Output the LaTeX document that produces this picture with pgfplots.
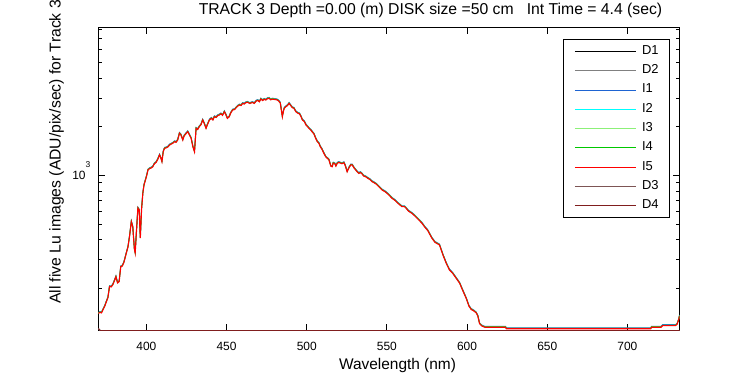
\documentclass[border=0pt]{standalone}
\usepackage{fontspec}
\setmainfont{Liberation Sans}
\usepackage{pgfplots}
\usepackage{pgfplotstable}
\pgfplotsset{compat=1.18}
\definecolor{cD2}{RGB}{128,128,128}
\definecolor{cI1}{RGB}{30,100,210}
\definecolor{cI2}{RGB}{0,255,255}
\definecolor{cI3}{RGB}{140,240,120}
\definecolor{cI4}{RGB}{0,200,0}
\definecolor{cI5}{RGB}{255,0,0}
\definecolor{cD3}{RGB}{125,85,85}
\definecolor{cD4}{RGB}{128,30,30}

\pgfplotstableread{
wl v
370 140
371 142
372 141
373 148
374 155
375 165
376 175
377 205
378 204
379 210
380 222
381 236
382 216
383 220
384 272
385 275
386 290
387.5 331
388.5 360
389.5 420
390.6 517
391.5 480
392.5 350
393 331
393.8 450
394.7 628
395.5 610
396.2 409
397 620
397.8 777
398.5 870
400 980
401 1079
402 1100
403 1110
404 1130
405 1180
406 1200
407 1250
408.2 1336
409 1280
409.7 1214
410.5 1400
411.3 1469
412.5 1480
413.5 1500
414.4 1539
415.5 1560
416.5 1580
417.5 1614
418.5 1600
419.5 1650
420.6 1820
421.5 1780
422.7 1653
423.5 1750
424.5 1800
425.8 1862
426.8 1780
427.9 1694
429 1500
430 1399
431 1952
432 1920
433 2000
434 2050
435.1 2198
436 2100
437.2 1952
438 2050
439.3 2198
440.5 2250
441.5 2200
442.4 2303
443.5 2280
444.5 2340
445.5 2360
446.5 2400
447.5 2350
448.6 2473
449.5 2380
450.5 2250
451.7 2303
452.5 2420
453.8 2535
455 2550
456 2620
457 2680
458 2722
459 2700
460 2780
461 2760
462 2812
463 2830
464.5 2780
466 2820
467.3 2786
468.5 2880
469.5 2900
470.5 2850
471.4 2964
472.5 2900
473.5 2950
474.5 2920
475.5 2980
476.6 2993
477.5 2930
478.5 2960
479.5 2950
480.5 2940
481.7 2922
482.5 2880
483.5 2800
484.8 2303
485.5 2500
486 2600
487 2656
488 2700
489 2786
490 2700
491 2620
492 2600
493.2 2473
494.5 2420
495.5 2400
496.5 2300
497.3 2198
498.5 2150
499.5 2050
500.5 2000
501.4 1952
502.5 1906
503.5 1850
504.5 1800
505.5 1700
506.6 1614
507.6 1577
508.5 1500
509.5 1450
510.5 1380
511.8 1303
512.8 1274
513.8 1250
515 1140
515.9 1130
516.5 1190
517.5 1180
518.2 1140
519 1186
520 1200
521 1190
522 1180
523.2 1197
524 1150
525.2 1052
526.5 1120
527.5 1160
528.4 1158
529.5 1110
530.5 1080
531.5 1050
532.5 1028
533.5 1040
534.5 1020
535.5 990
536.7 980
538 960
539.5 940
540.8 913
542 900
543.5 880
545 850
547 811
549 790
551 760
553.2 721
555 700
557 670
559.4 640
561 640
562 625
563.5 600
565.6 582
567.5 560
569.5 535
571.9 505
573.5 480
575.5 455
578.1 408
580 385
582.8 371
585 321
587 286
589 260
591 248
593.2 231
595.4 215
597.2 195
599.5 173
601.2 155
602.6 148
604.2 145
605.7 141
606.7 135
607.8 121
609.2 117
611 115
615 115
620 115
624 115
624.5 112.5
714.6 112.5
715 115
721 115
722 117.6
730 117.6
731 120
732 128
732.5 135
}\spec

\pgfplotstableread{
wl v
370 113
371 110
372 109.7
732.5 109.7
}\dark

\begin{document}
\begin{tikzpicture}
\begin{axis}[
  at={(98.3bp,44.3bp)}, anchor=south west,
  scale only axis, width=581.2bp, height=303.4bp,
  xmin=370, xmax=732.5,
  ymode=log, ymin=109.4, ymax=8230,
  xtick={400,450,...,700},
  ytick={1000}, yticklabels={{10\raisebox{12bp}{\fontsize{8.5}{8.5}\selectfont 3}}},
  minor ytick={200,300,400,500,600,700,800,900,2000,3000,4000,5000,6000,7000,8000},
  xtick pos=both, ytick pos=both, tick align=inside,
  major tick length=6.5bp, minor tick length=3.5bp,
  every tick/.style={black, line width=0.8bp},
  axis line style={black, line width=0.8bp},
  /pgf/number format/assume math mode=true,
  /pgf/number format/set thousands separator={},
  xticklabel style={font=\fontsize{12}{12}\selectfont, anchor=base, yshift=-19.8bp, inner sep=0pt},
  yticklabel style={font=\fontsize{12}{12}\selectfont, anchor=base east, inner sep=0pt, xshift=-7.8bp, yshift=-4bp},
  title={TRACK 3 Depth =0.00 (m) DISK size =50 cm\ \ \ Int Time = 4.4 (sec)},
  title style={at={(axis description cs:0.5716,1)}, anchor=base, yshift=7.3bp, font=\fontsize{15.8}{16}\selectfont, inner sep=0pt},
  xlabel={Wavelength (nm)},
  xlabel style={at={(axis description cs:0.5148,0)}, anchor=base, yshift=-39.3bp, font=\fontsize{15.5}{16}\selectfont, inner sep=0pt},
  ylabel={All five Lu images (ADU/pix/sec) for Track 3},
  ylabel style={at={(axis description cs:-0.065,0.589)}, anchor=base, font=\fontsize{15.8}{16}\selectfont, inner sep=0pt},
  legend cell align=left,
  legend image code/.code={\draw[#1] (0bp,0bp) -- (61bp,0bp);},
  legend style={at={(1,1)}, anchor=north east, xshift=-9.5bp, yshift=-11.7bp,
    draw=black, line width=0.8bp, fill=white,
    font=\fontsize{13}{13}\selectfont,
    inner xsep=11bp, inner ysep=5.5bp, row sep=6.3bp,
    nodes={inner sep=0pt, text height=9.5bp, text depth=3.5bp},
    /tikz/every odd column/.append style={column sep=5.7bp}},
  every axis plot/.append style={line width=0.8bp},
]
\addplot[black] table[x=wl,y=v] {\dark};
\addplot[cD2] table[x=wl,y=v] {\dark};
\addplot[cI1] table[x=wl, y expr=\thisrow{v}*1.014] {\spec};
\addplot[cI2] table[x=wl, y expr=\thisrow{v}*1.004] {\spec};
\addplot[cI3] table[x=wl, y expr=\thisrow{v}*1.006] {\spec};
\addplot[cI4] table[x=wl, y expr=\thisrow{v}*1.006] {\spec};
\addplot[cI5, line width=1.15bp] table[x=wl,y=v] {\spec};
\addplot[cD3] table[x=wl,y=v] {\dark};
\addplot[cD4] table[x=wl,y=v] {\dark};
\legend{D1,D2,I1,I2,I3,I4,I5,D3,D4}
\end{axis}
\pgfresetboundingbox
\path[use as bounding box] (0,0) rectangle (750bp,375bp);
\end{tikzpicture}
\end{document}
